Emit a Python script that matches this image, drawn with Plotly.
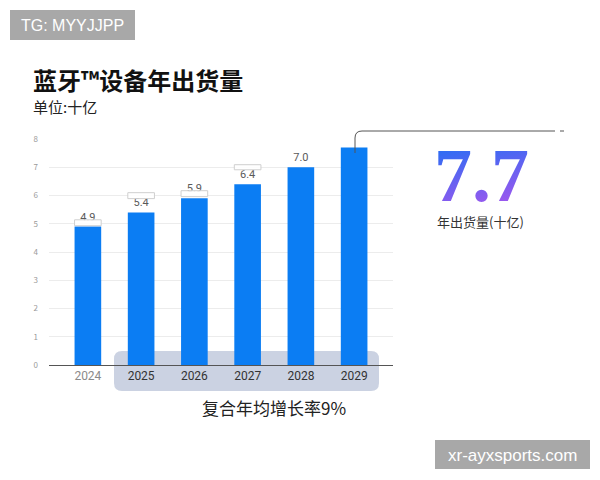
import plotly.graph_objects as go

years = ["2024", "2025", "2026", "2027", "2028", "2029"]
shipments = [4.9, 5.4, 5.9, 6.4, 7.0, 7.7]
value_labels = ["4.9", "5.4", "5.9", "6.4", "7.0", ""]
y_ticks = [0, 1, 2, 3, 4, 5, 6, 7, 8]
tick_colors = ["#8a8a8a", "#333333", "#333333", "#333333", "#333333", "#333333"]
headline_value = "7.7"
title_text = "蓝牙™设备年出货量"
unit_text = "单位:十亿"
headline_label = "年出货量(十亿)"
cagr_text = "复合年均增长率9%"

W, H = 600, 480
L, R, T, B = 49, 207, 139, 115
PW, PH = W - L - R, H - T - B


def px(x):
    return (x - L) / PW


def py(y):
    return (H - B - y) / PH


FONT = "Noto Sans CJK SC, Noto Sans, sans-serif"

fig = go.Figure()
fig.add_trace(go.Bar(
    x=list(range(len(years))), y=shipments,
    text=value_labels, textposition="outside",
    textfont=dict(size=11, color="#5a5a5a", family="Roboto, Noto Sans, sans-serif"),
    marker=dict(color="#0b7df3", line=dict(width=0)),
    width=0.5, cliponaxis=False, hoverinfo="skip",
))

shapes = []
# highlight rounded rectangle behind 2025-2029
x0, x1, y0, y1 = px(114), px(379), py(391), py(351)
rx, ry = 8 / PW, 8 / PH
shapes.append(dict(
    type="path", xref="paper", yref="paper", layer="below",
    path=(f"M {x0+rx},{y1} L {x1-rx},{y1} Q {x1},{y1} {x1},{y1-ry} "
          f"L {x1},{y0+ry} Q {x1},{y0} {x1-rx},{y0} L {x0+rx},{y0} "
          f"Q {x0},{y0} {x0},{y0+ry} L {x0},{y1-ry} Q {x0},{y1} {x0+rx},{y1} Z"),
    fillcolor="#cbd2e2", line=dict(width=0),
))
# small label boxes (decorative)
for cx, yb, yt in [(0, 4.93, 5.14), (1, 5.89, 6.10), (2, 5.96, 6.17), (3, 6.91, 7.09)]:
    shapes.append(dict(type="rect", xref="x", yref="y", x0=cx - 0.25, x1=cx + 0.25,
                       y0=yb, y1=yt, fillcolor="rgba(255,255,255,0.9)",
                       line=dict(color="#cfcfcf", width=1), layer="above"))
# connector line
a, b = px(355), py(153)
c = py(131)
shapes.append(dict(
    type="path", xref="paper", yref="paper",
    path=(f"M {a},{b} L {a},{c - 7/PH} Q {a},{c} {a + 7/PW},{c} L {px(555)},{c}"),
    line=dict(color="#555555", width=1),
))
shapes.append(dict(type="line", xref="paper", yref="paper", x0=px(560), x1=px(564),
                   y0=c, y1=c, line=dict(color="#555555", width=1)))
# watermark boxes
shapes.append(dict(type="rect", xref="paper", yref="paper", x0=px(10), x1=px(135),
                   y0=py(40), y1=py(10), fillcolor="#a8a8a8", line=dict(width=0)))
shapes.append(dict(type="rect", xref="paper", yref="paper", x0=px(435), x1=px(590),
                   y0=py(469), y1=py(440), fillcolor="#a8a8a8", line=dict(width=0)))


def ann(text, x, y, size, color, family=FONT, xanchor="center"):
    return dict(text=text, x=px(x), y=py(y), xref="paper", yref="paper",
                xanchor=xanchor, yanchor="middle", showarrow=False,
                font=dict(size=size, color=color, family=family))


annotations = [
    ann("TG: MYYJJPP", 72, 25, 16, "white", "Liberation Sans, Arial"),
    ann("xr-ayxsports.com", 512, 455, 17, "white", "Liberation Sans, Arial"),
    ann(f"<b>{title_text}</b>", 31, 79, 24, "#111111", xanchor="left"),
    ann(unit_text, 31, 106, 15, "#222222", xanchor="left"),
    ann(f"<b>{headline_value}</b>", 481, 175, 76, "#5a62f0", "Liberation Serif, serif"),
    ann(headline_label, 480, 221, 13, "#333333"),
    ann(cagr_text, 274, 407, 17, "#222222"),
]

fig.update_layout(
    width=W, height=H, margin=dict(l=L, r=R, t=T, b=B),
    paper_bgcolor="white", plot_bgcolor="rgba(0,0,0,0)",
    showlegend=False, shapes=shapes, annotations=annotations,
    font=dict(family=FONT),
    xaxis=dict(
        range=[-0.73, 5.73], tickvals=list(range(len(years))),
        ticktext=[f"<span style='color:{c}'>{y}</span>" for y, c in zip(years, tick_colors)],
        tickfont=dict(size=12, family="Roboto, Noto Sans, sans-serif"),
        showline=True, linecolor="#555555", linewidth=1, showgrid=False,
        zeroline=False, fixedrange=True,
    ),
    yaxis=dict(
        range=[0, 8], tickvals=y_ticks, tickfont=dict(size=8, color="#9a9a9a"),
        gridcolor="#ececec", gridwidth=1, zeroline=False, showline=False,
        ticklabelstandoff=10, fixedrange=True,
    ),
)

post = """
document.body.style.margin = '0';
var gd = document.getElementById('{plot_id}');
function applyGrad(){
  var svg = gd.querySelector('svg.main-svg');
  if(!svg) return;
  var ns = 'http://www.w3.org/2000/svg';
  if(!document.getElementById('g77')){
    var defs = svg.querySelector('defs');
    if(!defs){ defs = document.createElementNS(ns,'defs'); svg.insertBefore(defs, svg.firstChild); }
    var lg = document.createElementNS(ns,'linearGradient');
    lg.setAttribute('id','g77'); lg.setAttribute('x1','0'); lg.setAttribute('y1','0');
    lg.setAttribute('x2','0.25'); lg.setAttribute('y2','1');
    var s1 = document.createElementNS(ns,'stop'); s1.setAttribute('offset','0.1'); s1.setAttribute('stop-color','#1f6ff4');
    var s2 = document.createElementNS(ns,'stop'); s2.setAttribute('offset','0.95'); s2.setAttribute('stop-color','#9a58ee');
    lg.appendChild(s1); lg.appendChild(s2); defs.appendChild(lg);
  }
  gd.querySelectorAll('text.annotation-text').forEach(function(t){
    if(t.textContent.trim() === '7.7'){ t.style.fill = 'url(#g77)'; }
  });
}
applyGrad();
if(gd.on){ gd.on('plotly_afterplot', applyGrad); }
"""

fig.write_html("out.html", post_script=post, config={"displayModeBar": False})
